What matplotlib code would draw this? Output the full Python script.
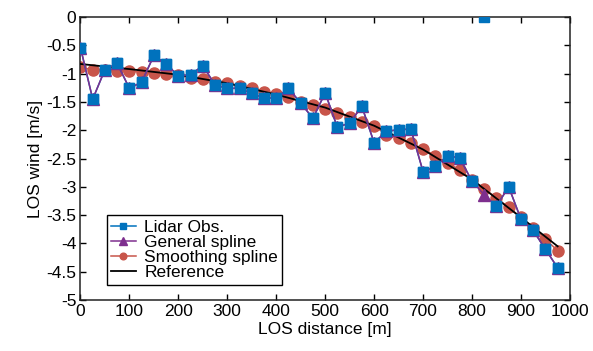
import numpy as np
import matplotlib
matplotlib.use("Agg")
import matplotlib.pyplot as plt

plt.rcParams['font.family'] = ['Liberation Sans', 'DejaVu Sans']

distance = [0, 25, 50, 75, 100, 125, 150, 175, 200, 225, 250, 275, 300, 325, 350, 375,
            400, 425, 450, 475, 500, 525, 550, 575, 600, 625, 650, 675, 700, 725, 750, 775,
            800, 825, 850, 875, 900, 925, 950, 975]

lidar_obs = [-0.54, -1.45, -0.93, -0.82, -1.26, -1.15, -0.68, -0.83, -1.04, -1.02, -0.86, -1.20,
             -1.26, -1.26, -1.35, -1.43, -1.43, -1.26, -1.52, -1.79, -1.34, -1.95, -1.87, -1.58,
             -2.22, -2.02, -1.99, -1.98, -2.73, -2.64, -2.45, -2.49, -2.90, 0.0, -3.34, -3.00,
             -3.57, -3.77, -4.10, -4.43]

general_spline = [-0.54, -1.45, -0.93, -0.82, -1.26, -1.15, -0.68, -0.83, -1.04, -1.02, -0.86, -1.20,
                  -1.26, -1.26, -1.35, -1.43, -1.43, -1.26, -1.52, -1.79, -1.34, -1.95, -1.87, -1.58,
                  -2.22, -2.02, -1.99, -1.98, -2.73, -2.64, -2.45, -2.49, -2.90, -3.14, -3.34, -3.00,
                  -3.57, -3.77, -4.10, -4.43]

smoothing_spline = [-0.89, -0.93, -0.93, -0.95, -0.96, -0.97, -0.99, -1.01, -1.03, -1.07, -1.10, -1.14,
                    -1.17, -1.21, -1.26, -1.32, -1.36, -1.42, -1.50, -1.56, -1.62, -1.69, -1.76, -1.85,
                    -1.92, -2.08, -2.13, -2.23, -2.33, -2.45, -2.58, -2.70, -2.88, -3.03, -3.20, -3.36,
                    -3.54, -3.73, -3.92, -4.13]

ref_distance = [0, 100, 200, 300, 400, 500, 600, 700, 800, 900, 975]
ref_wind = [-0.83, -0.92, -1.02, -1.17, -1.37, -1.60, -1.92, -2.34, -2.87, -3.54, -4.05]

xticks = [0, 100, 200, 300, 400, 500, 600, 700, 800, 900, 1000]
yticks = [0, -0.5, -1, -1.5, -2, -2.5, -3, -3.5, -4, -4.5, -5]
ytick_labels = ['0', '-0.5', '-1', '-1.5', '-2', '-2.5', '-3', '-3.5', '-4', '-4.5', '-5']

blue = '#0072BD'
purple = '#7E2F8E'
red = '#C8554A'

fig = plt.figure(figsize=(5.93, 3.51), dpi=100)
ax = fig.add_axes([0.1357, 0.145, 0.8253, 0.8066])

d = np.array(distance, dtype=float)
lo = np.array(lidar_obs, dtype=float)
lo_line = np.where(lo == 0.0, np.nan, lo)

ax.plot(d, smoothing_spline, color=red, marker='o', markersize=8, lw=1.1,
        label='Smoothing spline', zorder=2)
ax.plot(ref_distance, ref_wind, color='black', lw=1.3, label='Reference', zorder=3)
ax.plot(d, lo_line, color=blue, marker='s', markersize=6.5, lw=1.1,
        label='Lidar Obs.', zorder=3.5)
ax.plot(d, general_spline, color=purple, marker='^', markersize=9, lw=1.1,
        label='General spline', zorder=4)
ax.plot(d, lo, linestyle='none', color=blue, marker='s', markersize=6.5, zorder=5)

ax.set_xlim(0, 1000)
ax.set_ylim(-5, 0)
ax.set_xticks(xticks)
ax.set_yticks(yticks)
ax.set_yticklabels(ytick_labels)
ax.tick_params(direction='in', top=True, right=True, labelsize=12.5, length=4, width=1, pad=3)
for s in ax.spines.values():
    s.set_linewidth(1.1)
    s.set_color('#222222')

ax.set_xlabel('LOS distance [m]', fontsize=12.5, labelpad=2)
ax.set_ylabel('LOS wind [m/s]', fontsize=12.5, labelpad=2)

handles, labels = ax.get_legend_handles_labels()
order = ['Lidar Obs.', 'General spline', 'Smoothing spline', 'Reference']
hmap = dict(zip(labels, handles))
leg = ax.legend([hmap[k] for k in order], order, loc='lower left',
                bbox_to_anchor=(0.054, 0.055), borderaxespad=0, fontsize=12.5,
                frameon=True, fancybox=False, edgecolor='black', framealpha=1,
                handlelength=1.4, handletextpad=0.5, labelspacing=0.0,
                borderpad=0.25, markerscale=0.6)
leg.get_frame().set_linewidth(1.0)

fig.savefig('out.png', dpi=100)
